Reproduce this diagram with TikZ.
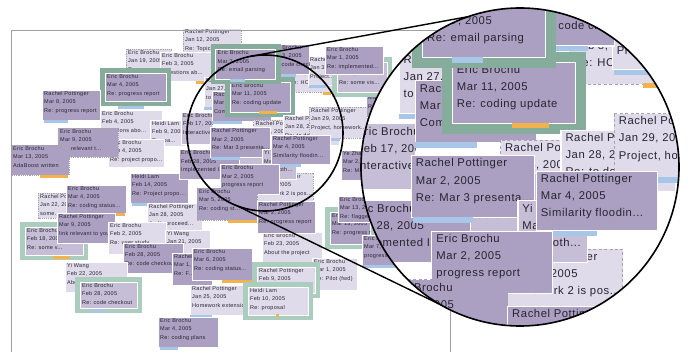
\documentclass[tikz,border=0pt]{standalone}
\usepackage{fontspec}
\setmainfont{Liberation Sans}[LetterSpace=5]
\definecolor{cdk}{RGB}{172,160,194}
\definecolor{cmd}{RGB}{198,189,214}
\definecolor{clt}{RGB}{224,219,234}
\definecolor{cgr}{RGB}{134,172,156}
\definecolor{cpg}{RGB}{170,205,190}
\definecolor{cbl}{RGB}{168,198,232}
\definecolor{cor}{RGB}{244,178,76}
\definecolor{ctx}{RGB}{40,36,48}
\tikzset{
  dk/.style={fill=cdk},
  md/.style={fill=cmd},
  lt/.style={fill=clt},
  cardedge/.style={draw=white, line width=0.5pt},
  dsh/.style={draw=gray!70, dash pattern=on 1.2pt off 1pt},
  cardtxt/.style={anchor=base west, inner sep=0pt, text=ctx, font=\fontsize{5.5}{6}\selectfont},
  gfr/.style={fill=cgr},
  pfr/.style={fill=cpg},
  lensline/.style={draw=black, line width=1.6pt},
}
\newcounter{cardno}
\newcommand{\ecard}[8]{%
  \stepcounter{cardno}%
  \begin{scope}
  \path[cardedge,#1] (#2,#3) rectangle ++(#4,#5);
  \clip (#2,#3) rectangle ++(#4,#5);
  \node[cardtxt] (n\arabic{cardno}a) at (#2+2,#3+5.5) {#6};
  \node[cardtxt] (n\arabic{cardno}b) at (#2+2,#3+13.8) {#7};
  \node[cardtxt] (n\arabic{cardno}c) at (#2+2,#3+22.1) {#8};
  \end{scope}}
\newcommand{\eframe}[5]{\fill[#1] (#2-5,#3-5) rectangle ++(#4+10,#5+10);}
\newcommand{\ebar}[4]{\fill[#1] (#2,#3) rectangle ++(#4,2.6);}
\newcommand{\allcards}{%
% ---- background ----
\ecard{lt,dsh}{183}{28}{58}{30}{Rachel Pottinger}{Jan 12, 2005}{Re: Topic b...}
\ecard{lt,dsh}{126}{49}{45}{30}{Eric Brochu}{Jan 19, 2005}{Re: ...}
\ecard{lt}{160}{52}{57}{29}{Eric Brochu}{Feb 3, 2005}{Questions ab...}
\ebar{cor}{196}{81}{16}
\eframe{gfr}{105}{73}{61}{28}
\ecard{dk}{105}{73}{61}{28}{Eric Brochu}{Mar 4, 2005}{Re: progress report}
\ebar{cbl}{118}{106}{26}
\ecard{dk}{42}{90}{58}{30}{Rachel Pottinger}{Mar 8, 2005}{Re: progress report}
\ebar{cbl}{44}{120}{24}
\ecard{lt}{100}{110}{62}{32}{Eric Brochu}{Feb 4, 2005}{Questions abo...}
\ecard{lt}{150}{120}{35}{26}{Heidi Lam}{Feb 9, 2005}{Re: pa...}
\ecard{lt}{108}{139}{56}{28}{Eric Brochu}{Feb 4, 2005}{Re: project propo...}
\ecard{dk,dsh}{58}{128}{60}{29}{Eric Brochu}{Mar 9, 2005}{link relevant t...}
\ecard{dk,dsh}{11}{145}{58}{30}{Eric Brochu}{Mar 13, 2005}{AdaBoost written}
\ebar{cor}{40}{175}{28}
\ecard{dk}{130}{173}{58}{30}{Heidi Lam}{Feb 14, 2005}{Re: Project propo...}
\ebar{cbl}{132}{203}{22}
\ecard{lt,dsh}{38}{193}{35}{25}{Rachel Pottinger}{Jan 22, 2005}{some...}
\ecard{dk}{66}{185}{60}{28}{Eric Brochu}{Mar 4, 2005}{Re: coding status...}
\ebar{cor}{113}{213}{12}
\ecard{lt}{147}{203}{55}{29}{Rachel Pottinger}{Jan 28, 2005}{Audio proceed...}
\eframe{pfr}{25}{227}{58}{28}
\ecard{md}{25}{227}{58}{28}{Eric Brochu}{Feb 18, 2005}{Re: some v...}
\ebar{cor}{53}{256}{17}
\ecard{dk}{57}{213}{58}{30}{Rachel Pottinger}{Mar 9, 2005}{link relevant to you...}
\ecard{lt}{108}{222}{58}{32}{Eric Brochu}{Feb 2, 2005}{Re: user study}
\ecard{lt}{165}{230}{45}{28}{Yi Wang}{Jan 21, 2005}{Re: ...}
\ecard{dk}{123}{243}{60}{30}{Eric Brochu}{Feb 28, 2005}{Re: code checkou...}
\ecard{lt}{65}{262}{62}{30}{Yi Wang}{Feb 22, 2005}{About ...}
\eframe{pfr}{80}{282}{57}{26}
\ecard{md}{80}{282}{57}{26}{Eric Brochu}{Feb 28, 2005}{Re: code checkout}
\ebar{cbl}{92}{309}{14}
\ecard{dk}{172}{253}{40}{32}{Rachel Pottinger}{Mar 1, 2005}{Re: F...}
\ecard{lt}{190}{285}{58}{30}{Rachel Pottinger}{Jan 25, 2005}{Homework extensio...}
\ebar{cbl}{190}{315}{22}
\ecard{dk}{192}{248}{60}{32}{Eric Brochu}{Mar 6, 2005}{Re: coding status...}
\ebar{cor}{222}{280}{30}
\ecard{dk}{158}{317}{60}{30}{Eric Brochu}{Mar 4, 2005}{Re: coding plans}
\ebar{cbl}{160}{347}{18}
\ecard{lt}{262}{232}{60}{32}{Eric Brochu}{Feb 23, 2005}{About the project}
\ecard{lt}{312}{258}{45}{32}{Eric Brochu}{Mar 1, 2005}{Re: Pilot (fwd)}
\eframe{pfr}{257}{267}{58}{26}
\ecard{lt}{257}{267}{58}{26}{Rachel Pottinger}{Feb 9, 2005}{Re: ...}
\eframe{pfr}{248}{287}{60}{28}
\ecard{lt}{248}{287}{60}{28}{Heidi Lam}{Feb 10, 2005}{Re: proposal}
\ebar{cor}{276}{314}{3}
\eframe{pfr}{330}{212}{40}{32}
\ecard{dk}{330}{212}{40}{32}{Eric Brochu}{Mar 13, 2005}{Re: progress rep...}
\ecard{dk}{338}{196}{40}{26}{Eric Brochu}{Mar 13, 2005}{Re: flagge...}
\ecard{dk}{362}{235}{45}{30}{Eric Brochu}{Mar 7, 2005}{progress...}
\ebar{cbl}{362}{265}{45}
\ecard{dk}{341}{150}{52}{30}{Ye Zhang}{Mar 2, 2005}{Re: Mar 3 pres...}
\ecard{dk}{366}{86}{40}{30}{Eric Brochu}{Mar 10, 2005}{Re: ...}
\ecard{lt,dsh}{287}{62}{55}{30.5}{Yi Wang}{Feb 8, 2005}{Re: HCI meeting}
\ecard{lt}{308}{56}{52}{29.5}{Rachel Pottinger}{Jan 30, 2005}{Project...}
\ebar{cbl}{309}{85.5}{17}
\eframe{pfr}{337}{62}{50}{30}
\ecard{md}{337}{62}{50}{30}{Eric Brochu}{Mar 3, 2005}{Re: some vis...}
\ecard{dk}{325}{46}{58}{28}{Eric Brochu}{Mar 1, 2005}{Re: implemented...}
\ebar{cor}{323}{92}{8}
% ---- core (under the lens) ----
\ecard{dk}{268}{44}{41}{30}{Eric Brochu}{Mar 3, 2005}{Re: code checkout}
\ebar{cbl}{268}{74}{28}
\ecard{lt}{204}{77}{50}{30}{Rachel Pottinger}{Jan 27, 2005}{to read list}
\ebar{cbl}{204}{107}{10}
\ecard{md}{181}{112}{31}{32}{Eric Brochu}{Feb 17, 2005}{Interactive...}
\ecard{dk}{212}{91}{59}{30}{Rachel Pottinger}{Mar 1, 2005}{Comments...}
\ebar{cbl}{212}{121}{30}
\eframe{gfr}{230}{82}{60}{30}
\ecard{dk}{230}{82}{60}{30}{Eric Brochu}{Mar 11, 2005}{Re: coding update}
\ebar{cor}{259}{111.5}{18}
\eframe{gfr}{215.5}{49.5}{60}{30}
\ecard{dk}{215.5}{49.5}{60}{30}{Eric Brochu}{Mar 7, 2005}{Re: email parsing}
\ebar{cbl}{230}{79.5}{15}
\ecard{lt,dsh}{253.5}{120}{58}{30}{Rachel Pottinger}{Mar 4, 2005}{Re: Similarity...}
\ecard{lt}{283}{115}{56}{30}{Rachel Pottinger}{Jan 28, 2005}{Re: to do...}
\ecard{lt,dsh}{309}{107}{58}{31}{Rachel Pottinger}{Jan 29, 2005}{Project, homework...}
\ebar{cbl}{310}{138}{30}
\ecard{md}{222}{136}{50}{30}{Eric Brochu}{Mar 3, 2005}{Re: code checkout}
\ecard{dk}{179}{149.5}{60}{30}{Eric Brochu}{Feb 28, 2005}{Implemented I...}
\ecard{dk}{210}{127.5}{60}{30}{Rachel Pottinger}{Mar 2, 2005}{Re: Mar 3 presenta...}
\ebar{cbl}{211}{157.5}{29}
\ecard{lt,dsh}{254}{173}{59}{30}{Rachel Pottinger}{Feb 24, 2005}{Homework 2 is pos...}
\ecard{md}{262}{149.5}{34}{30}{Yi Wang}{Mar 3, 2005}{Re: both...}
\ecard{dk}{271}{135}{59}{29}{Rachel Pottinger}{Mar 4, 2005}{Similarity floodin...}
\ebar{cbl}{271.5}{164}{29}
\ecard{dk}{220}{164.5}{59}{30}{Eric Brochu}{Mar 2, 2005}{progress report}
\ecard{dk,dsh}{197}{188}{60}{32}{Eric Brochu}{Mar 5, 2005}{Re: coding st...}
\ebar{cor}{228}{220}{29}
\ecard{dk}{257}{201}{58}{32}{Rachel Pottinger}{Mar 2, 2005}{Re: progress report}
}
\begin{document}
\begin{tikzpicture}[x=1pt,y=-1pt]
\useasboundingbox (0,0) rectangle (688,352);
\fill[white] (0,0) rectangle (688,352);
% overview panel
\begin{scope}
  \clip (11,30) rectangle (450,352);
  \allcards
\end{scope}
\draw[gray!75, line width=0.8pt] (11,352) -- (11,30) -- (450,30) -- (450,352);
\node[circle, lensline, minimum size=156pt, inner sep=0pt, outer sep=0pt] (smallLens) at (265,133) {};
% magnified lens
\fill[white] (520,167) circle (159pt);
\begin{scope}
  \clip (520,167) circle (159pt);
  \begin{scope}[shift={(520,167)}, scale=2.05, shift={(-263,-133)}, transform shape, name prefix=L-,
      cardedge/.style={draw=white, line width=1.1pt},
      dsh/.style={draw=gray!70, line width=0.9pt, dash pattern=on 3pt off 2.4pt}]
    \allcards
  \end{scope}
\end{scope}
\node[circle, lensline, minimum size=318pt, inner sep=0pt, outer sep=0pt] (bigLens) at (520,167) {};
\draw[line width=1.4pt] (smallLens.101) -- (bigLens.109);
\draw[line width=1.4pt] (smallLens.249) -- (bigLens.240);
\end{tikzpicture}
\end{document}
